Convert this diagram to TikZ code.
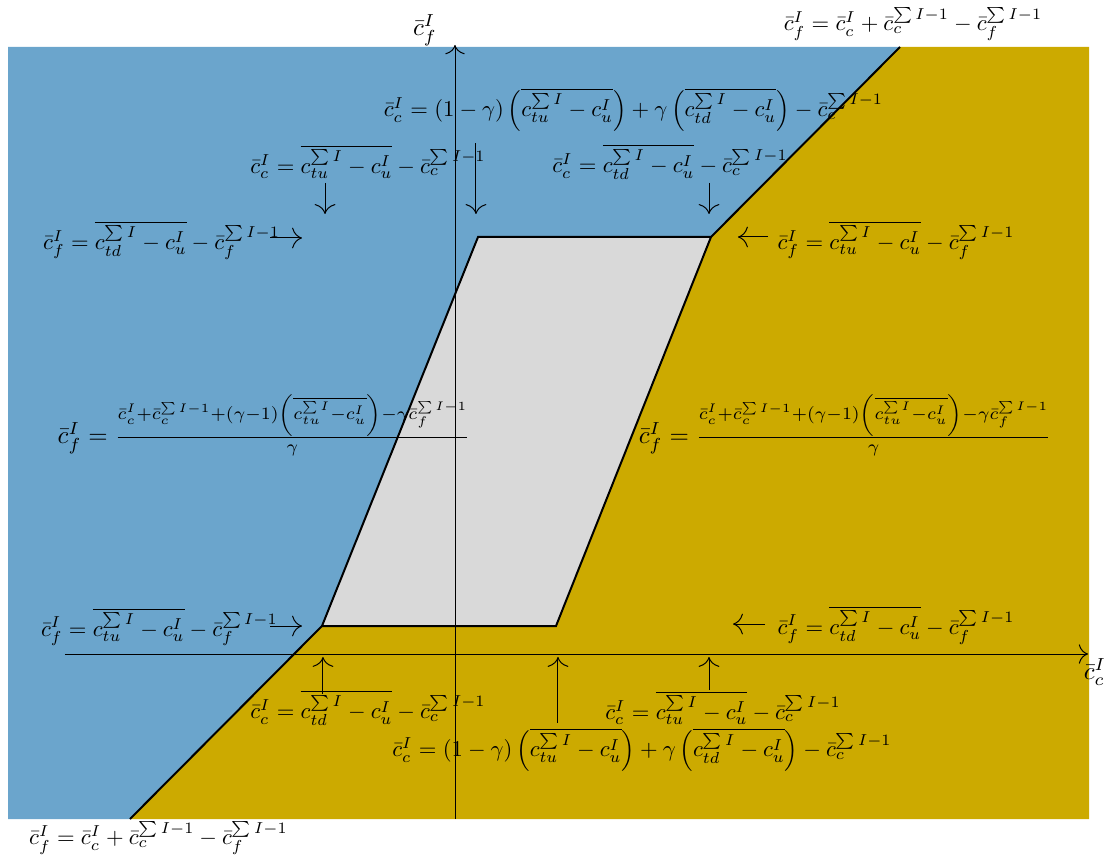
\documentclass[tikz,border=0pt]{standalone}
\usepackage{amsmath}
\usetikzlibrary{arrows.meta}
\definecolor{leftblue}{RGB}{107,165,204}
\definecolor{rightgold}{RGB}{204,170,0}
\definecolor{midgrey}{RGB}{217,217,217}

\begin{document}
\begin{tikzpicture}
    % Styles
    \tikzstyle{boundary}=[thick, black]
    \tikzstyle{axis}=[-{To[scale=1.5]}]
    \tikzstyle{pointer}=[-{To[scale=1.6]}]
    \tikzstyle{formula}=[inner sep=1pt, scale=0.91]
    \tikzstyle{fraction}=[inner sep=1pt]

    \useasboundingbox (-6.42,-2.921) rectangle (9.242,9.228);

    % --- Corners of the middle region ---
    \coordinate (bl) at (-1.877, 0.395);
    \coordinate (br) at (1.425, 0.395);
    \coordinate (tr) at (3.612, 5.884);
    \coordinate (tl) at (0.325, 5.884);

    % Ends of the diagonal boundary
    \coordinate (low_end) at (-4.586, -2.328);
    \coordinate (high_end) at (6.279, 8.565);

    % Frame of the coloured area
    \coordinate (frame_nw) at (-6.307, 8.565);
    \coordinate (frame_ne) at (8.946, 8.565);
    \coordinate (frame_se) at (8.946, -2.328);
    \coordinate (frame_sw) at (-6.307, -2.328);

    % --- Regions ---
    \fill[leftblue] (frame_nw) -- (high_end) -- (tr) -- (tl) -- (bl) -- (low_end) -- (frame_sw) -- cycle;
    \fill[rightgold] (high_end) -- (frame_ne) -- (frame_se) -- (low_end) -- (bl) -- (br) -- (tr) -- cycle;
    \fill[midgrey] (bl) -- (br) -- (tr) -- (tl) -- cycle;

    % --- Labels ---
    % Diagonal boundary
    \node[formula] (eq_high) at (6.463, 8.89) {$\bar{c}_f^I = \bar{c}_c^I + \bar{c}_c^{\sum I-1} - \bar{c}_f^{\sum I-1}$};
    \node[formula] (eq_low) at (-4.184, -2.596) {$\bar{c}_f^I = \bar{c}_c^I + \bar{c}_c^{\sum I-1} - \bar{c}_f^{\sum I-1}$};

    % Top edge
    \node[formula] (eq_top_mix) at (2.519, 7.676) {$\bar{c}_c^I = (1-\gamma)\left(\overline{c_{tu}^{\sum I} - c_u^I}\right) + \gamma\left(\overline{c_{td}^{\sum I} - c_u^I}\right) - \bar{c}_c^{\sum I-1}$};
    \node[formula] (eq_top_tu) at (-1.228, 6.942) {$\bar{c}_c^I = \overline{c_{tu}^{\sum I} - c_u^I} - \bar{c}_c^{\sum I-1}$};
    \node[formula] (eq_top_td) at (3.034, 6.942) {$\bar{c}_c^I = \overline{c_{td}^{\sum I} - c_u^I} - \bar{c}_c^{\sum I-1}$};

    % Upper corners, sideways
    \node[formula] (eq_left_td) at (-4.14, 5.84) {$\bar{c}_f^I = \overline{c_{td}^{\sum I} - c_u^I} - \bar{c}_f^{\sum I-1}$};
    \node[formula] (eq_right_tu) at (6.223, 5.84) {$\bar{c}_f^I = \overline{c_{tu}^{\sum I} - c_u^I} - \bar{c}_f^{\sum I-1}$};

    % Slanted edges
    \node[fraction] (eq_left_slant) at (-2.695, 3.231) {$\bar{c}_f^I = \frac{\bar{c}_c^I + \bar{c}_c^{\sum I-1} + (\gamma-1)\left(\overline{c_{tu}^{\sum I} - c_u^I}\right) - \gamma\bar{c}_f^{\sum I-1}}{\gamma}$};
    \node[fraction] (eq_right_slant) at (5.505, 3.231) {$\bar{c}_f^I = \frac{\bar{c}_c^I + \bar{c}_c^{\sum I-1} + (\gamma-1)\left(\overline{c_{tu}^{\sum I} - c_u^I}\right) - \gamma\bar{c}_f^{\sum I-1}}{\gamma}$};

    % Lower corners, sideways
    \node[formula] (eq_left_tu) at (-4.17, 0.381) {$\bar{c}_f^I = \overline{c_{tu}^{\sum I} - c_u^I} - \bar{c}_f^{\sum I-1}$};
    \node[formula] (eq_right_td) at (6.223, 0.409) {$\bar{c}_f^I = \overline{c_{td}^{\sum I} - c_u^I} - \bar{c}_f^{\sum I-1}$};

    % Bottom edge
    \node[formula] (eq_bot_td) at (-1.228, -0.762) {$\bar{c}_c^I = \overline{c_{td}^{\sum I} - c_u^I} - \bar{c}_c^{\sum I-1}$};
    \node[formula] (eq_bot_tu) at (3.782, -0.762) {$\bar{c}_c^I = \overline{c_{tu}^{\sum I} - c_u^I} - \bar{c}_c^{\sum I-1}$};
    \node[formula] (eq_bot_mix) at (2.639, -1.355) {$\bar{c}_c^I = (1-\gamma)\left(\overline{c_{tu}^{\sum I} - c_u^I}\right) + \gamma\left(\overline{c_{td}^{\sum I} - c_u^I}\right) - \bar{c}_c^{\sum I-1}$};

    % --- Boundaries ---
    \draw[boundary] (low_end) -- (bl) -- (tl) -- (tr) -- (high_end);
    \draw[boundary] (bl) -- (br) -- (tr);

    % --- Axes ---
    \coordinate (x_start) at (-5.503, 0);
    \coordinate (x_end) at (8.932, 0);
    \coordinate (y_start) at (0, -2.328);
    \coordinate (y_end) at (0, 8.593);
    \draw[axis] (x_start) -- (x_end);
    \draw[axis] (y_start) -- (y_end);
    \node (x_label) at (9.03, -0.26) {$\bar{c}_c^I$};
    \node (y_label) at (-0.423, 8.805) {$\bar{c}_f^I$};

    % --- Pointers ---
    % From above
    \coordinate (p_top_tu) at (-1.834, 6.646);
    \coordinate (h_top_tu) at (-1.834, 6.209);
    \coordinate (p_top_mix) at (0.296, 7.21);
    \coordinate (h_top_mix) at (0.296, 6.209);
    \coordinate (p_top_td) at (3.584, 6.646);
    \coordinate (h_top_td) at (3.584, 6.209);
    \draw[pointer] (p_top_tu) -- (h_top_tu);
    \draw[pointer] (p_top_mix) -- (h_top_mix);
    \draw[pointer] (p_top_td) -- (h_top_td);

    % From the sides
    \coordinate (p_left_td) at (-2.61, 5.87);
    \coordinate (h_left_td) at (-2.159, 5.87);
    \coordinate (p_right_tu) at (4.417, 5.884);
    \coordinate (h_right_tu) at (3.993, 5.884);
    \coordinate (p_left_tu) at (-2.61, 0.395);
    \coordinate (h_left_tu) at (-2.159, 0.395);
    \coordinate (p_right_td) at (4.374, 0.423);
    \coordinate (h_right_td) at (3.923, 0.423);
    \draw[pointer] (p_left_td) -- (h_left_td);
    \draw[pointer] (p_right_tu) -- (h_right_tu);
    \draw[pointer] (p_left_tu) -- (h_left_tu);
    \draw[pointer] (p_right_td) -- (h_right_td);

    % From below
    \coordinate (p_bot_td) at (-1.863, -0.564);
    \coordinate (h_bot_td) at (-1.863, -0.042);
    \coordinate (p_bot_mix) at (1.453, -0.974);
    \coordinate (h_bot_mix) at (1.453, -0.042);
    \coordinate (p_bot_tu) at (3.584, -0.508);
    \coordinate (h_bot_tu) at (3.584, -0.042);
    \draw[pointer] (p_bot_td) -- (h_bot_td);
    \draw[pointer] (p_bot_mix) -- (h_bot_mix);
    \draw[pointer] (p_bot_tu) -- (h_bot_tu);

\end{tikzpicture}
\end{document}
